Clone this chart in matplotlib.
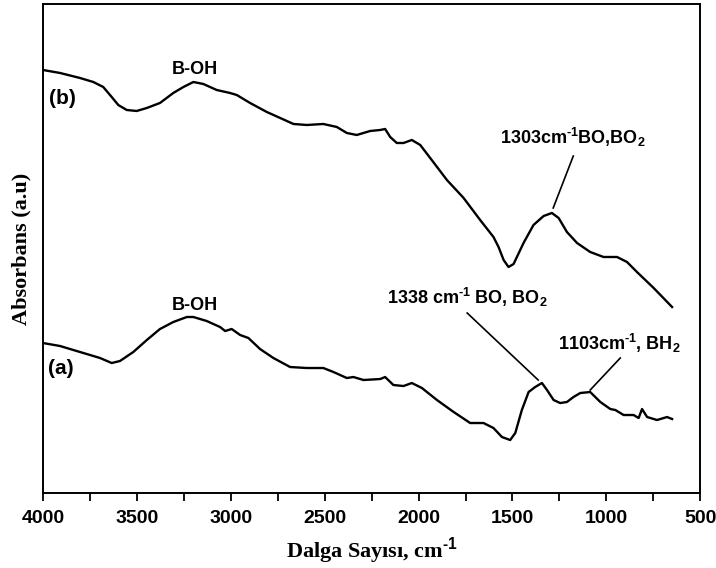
import matplotlib.pyplot as plt
from matplotlib.ticker import MultipleLocator

plt.rcParams.update({
    "font.family": "Liberation Sans",
    "font.weight": "bold",
    "mathtext.fontset": "custom",
    "mathtext.rm": "Liberation Sans:bold",
    "mathtext.bf": "Liberation Sans:bold",
    "mathtext.it": "Liberation Sans:bold"})

# sample (b), wavenumber [cm-1] and absorbance [a.u.]
wn_b = [4000, 3909, 3803, 3732, 3679, 3634, 3599, 3554, 3501, 3447, 3377,
        3306, 3252, 3199, 3146, 3075, 3004, 2968, 2897, 2808, 2737, 2666,
        2595, 2507, 2435, 2382, 2329, 2258, 2204, 2178, 2151, 2116, 2080,
        2036, 1991, 1938, 1849, 1760, 1672, 1601, 1574, 1547, 1521, 1494,
        1441, 1388, 1334, 1290, 1254, 1210, 1156, 1086, 1015, 943, 890,
        837, 748, 650]
abs_b = [4.23, 4.20, 4.15, 4.11, 4.06, 3.96, 3.88, 3.83, 3.82, 3.85, 3.90,
         4.00, 4.06, 4.11, 4.09, 4.03, 4.00, 3.98, 3.90, 3.81, 3.75, 3.69,
         3.68, 3.69, 3.66, 3.60, 3.58, 3.62, 3.63, 3.64, 3.56, 3.50, 3.50,
         3.53, 3.48, 3.35, 3.13, 2.95, 2.73, 2.56, 2.46, 2.33, 2.26, 2.29,
         2.50, 2.68, 2.77, 2.80, 2.75, 2.61, 2.50, 2.41, 2.36, 2.36, 2.31,
         2.21, 2.05, 1.86]

# sample (a)
wn_a = [4000, 3909, 3838, 3767, 3696, 3634, 3590, 3519, 3447, 3377, 3306,
        3234, 3199, 3128, 3057, 3030, 2995, 2950, 2906, 2844, 2773, 2684,
        2595, 2507, 2453, 2382, 2347, 2293, 2204, 2178, 2134, 2080, 2036,
        1982, 1902, 1813, 1725, 1654, 1601, 1556, 1512, 1485, 1450, 1414,
        1379, 1343, 1316, 1281, 1246, 1210, 1175, 1139, 1086, 1032, 979,
        952, 908, 855, 828, 810, 783, 730, 677, 650]
abs_a = [1.50, 1.47, 1.43, 1.39, 1.35, 1.30, 1.32, 1.41, 1.53, 1.64, 1.71,
         1.76, 1.76, 1.72, 1.66, 1.62, 1.64, 1.58, 1.55, 1.44, 1.35, 1.26,
         1.25, 1.25, 1.21, 1.15, 1.16, 1.13, 1.14, 1.16, 1.08, 1.07, 1.10,
         1.05, 0.93, 0.81, 0.70, 0.70, 0.65, 0.56, 0.53, 0.60, 0.83, 1.01,
         1.06, 1.10, 1.03, 0.93, 0.90, 0.91, 0.96, 1.00, 1.01, 0.91, 0.84,
         0.83, 0.78, 0.78, 0.75, 0.84, 0.76, 0.73, 0.76, 0.74]

fig = plt.figure(figsize=(7.16, 5.68), dpi=100)
ax = fig.add_axes([0.060, 0.132, 0.918, 0.861])

ax.plot(wn_b, abs_b, color="black", lw=1.7)
ax.plot(wn_a, abs_a, color="black", lw=1.7)

ax.set_xlim(4000, 500)
ax.set_ylim(0, 4.89)
ax.set_yticks([])
ax.xaxis.set_major_locator(MultipleLocator(500))
ax.xaxis.set_minor_locator(MultipleLocator(250))
ax.tick_params(axis="x", which="both", direction="out", length=6, width=1.3,
               labelsize=14, pad=6)
for s in ax.spines.values():
    s.set_linewidth(1.4)

serif = {"family": "Liberation Serif", "weight": "bold", "size": 16}
ax.set_xlabel(r"Dalga Sayısı, cm$^{\text{-1}}$", fontdict=serif, labelpad=6)
ax.set_ylabel("Absorbans (a.u)", fontdict=serif, labelpad=8)

# labels
ax.text(3190, 4.23, "B-OH", ha="center", va="center", fontsize=13)
ax.text(3190, 1.88, "B-OH", ha="center", va="center", fontsize=13)
ax.text(3968, 3.94, "(b)", ha="left", va="center", fontsize=15)
ax.text(3973, 1.25, "(a)", ha="left", va="center", fontsize=15)

ax.text(1176, 3.56, r"1303cm$^{\text{-1}}$BO,BO$_2$", ha="center",
        va="center", fontsize=13)
ax.plot([1176, 1283], [3.37, 2.85], color="black", lw=1.2)

ax.text(1741, 1.96, r"1338 cm$^{\text{-1}}$ BO, BO$_2$", ha="center",
        va="center", fontsize=13)
ax.plot([1741, 1363], [1.80, 1.13], color="black", lw=1.2)

ax.text(931, 1.50, r"1103cm$^{\text{-1}}$, BH$_2$", ha="center",
        va="center", fontsize=13)
ax.plot([926, 1086], [1.35, 1.03], color="black", lw=1.2)

fig.savefig("out.png", dpi=100)
